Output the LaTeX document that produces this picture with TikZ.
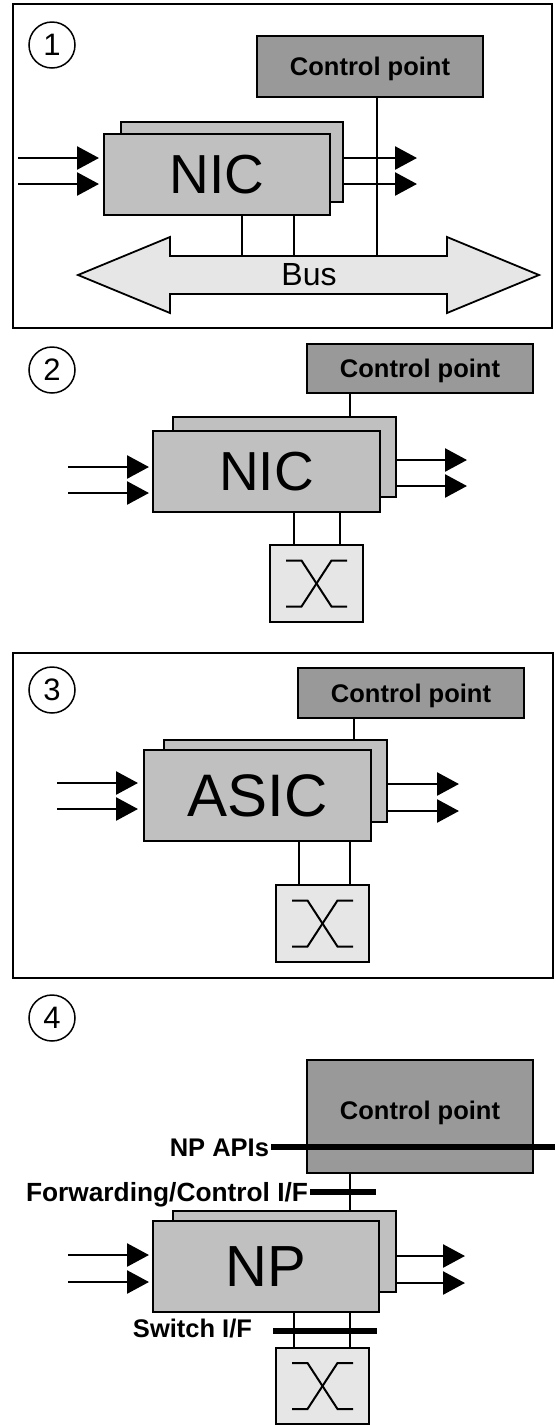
\documentclass[tikz,border=0pt]{standalone}
\usepackage{fontspec}
\setmainfont{Liberation Sans}
\usetikzlibrary{arrows.meta,calc}

\definecolor{cpfill}{HTML}{999999}
\definecolor{chipfill}{HTML}{C0C0C0}
\definecolor{lightfill}{HTML}{E6E6E6}

\newcommand\lblfont{\fontsize{25.5}{28}\selectfont\bfseries}
\newcommand\numfont{\fontsize{31}{33}\selectfont}

\tikzset{
  every node/.style={inner sep=0pt, outer sep=0pt},
  box/.style={draw=black, line width=1.8pt, rectangle, anchor=north west},
  cpbox/.style={box, fill=cpfill, font=\lblfont, text height=18.3pt, text depth=0pt},
  chipbox/.style={box, fill=chipfill},
  swbox/.style={box, fill=lightfill, minimum width=93pt, minimum height=77pt},
  wire/.style={line width=1.8pt},
  flow/.style={line width=2.6pt, -{Triangle[length=22pt,width=23pt]}},
  iface/.style={line width=5.5pt},
  tag/.style={font=\lblfont, text height=18.3pt, text depth=0pt},
  numcirc/.style={circle, draw, line width=1.5pt, minimum size=46pt, font=\numfont},
  frame/.style={draw, line width=1.8pt},
  xsym/.style={line width=2pt}
}

\begin{document}
\begin{tikzpicture}[x=1pt,y=-1pt]
\fill[white] (0,0) rectangle (555,1425);
\useasboundingbox (0,0) rectangle (555,1425);

% ---------- 1: NIC cards on a shared bus ----------
\draw[frame] (13,4) rectangle (552,328);
\node[numcirc] (n1) at (52,45) {1};
\node[cpbox, minimum width=226pt, minimum height=61pt] (cp1) at (257,36) {Control point};
\node[chipbox, minimum width=222pt, minimum height=80pt] (nicb1) at (121,122) {};
\node[chipbox, minimum width=226pt, minimum height=81pt, font=\fontsize{55}{60}\selectfont] (nic1) at (104,134) {NIC};
\draw[wire, fill=lightfill] (78,275) -- (170,237) -- (170,256) -- (447,256) -- (447,237)
  -- (539,275) -- (447,313) -- (447,294) -- (170,294) -- (170,313) -- cycle;
\node[font=\fontsize{32}{34}\selectfont] (bus1) at (309,275) {Bus};
\coordinate (b1a) at (242,256);
\coordinate (b1b) at (294,256);
\coordinate (b1c) at (377,256);
\draw[wire] (b1a |- nic1.south) -- (b1a);
\draw[wire] (b1b |- nic1.south) -- (b1b);
\draw[wire] (b1c |- cp1.south) -- (b1c);
\coordinate (i1a) at (18,158);
\coordinate (i1b) at (18,184);
\draw[flow, shorten >=5pt] (i1a) -- (i1a -| nic1.west);
\draw[flow, shorten >=5pt] (i1b) -- (i1b -| nic1.west);
\coordinate (o1a) at (417,158);
\coordinate (o1b) at (417,184);
\draw[flow] (o1a -| nicb1.east) -- (o1a);
\draw[flow] (o1b -| nicb1.east) -- (o1b);

% ---------- 2: NIC cards on a switch ----------
\node[numcirc] (n2) at (52,370) {2};
\node[cpbox, minimum width=226pt, minimum height=49pt] (cp2) at (307,344) {Control point};
\node[chipbox, minimum width=223pt, minimum height=80pt] (nicb2) at (173,417) {};
\node[chipbox, minimum width=227pt, minimum height=81pt, font=\fontsize{55}{60}\selectfont] (nic2) at (153,431) {NIC};
\node[swbox] (sw2) at (270,545) {};
\draw[xsym] ($(sw2.center)+(-30.5,-23)$) -- ++(15.5,0) -- ++(30,46) -- ++(15.5,0);
\draw[xsym] ($(sw2.center)+(-30.5,23)$) -- ++(15.5,0) -- ++(30,-46) -- ++(15.5,0);
\coordinate (c2) at (350,0);
\draw[wire] (c2 |- cp2.south) -- (c2 |- nicb2.north);
\coordinate (s2a) at (294,0);
\coordinate (s2b) at (340,0);
\draw[wire] (s2a |- nic2.south) -- (s2a |- sw2.north);
\draw[wire] (s2b |- nic2.south) -- (s2b |- sw2.north);
\coordinate (i2a) at (68,467);
\coordinate (i2b) at (68,493);
\draw[flow, shorten >=4pt] (i2a) -- (i2a -| nic2.west);
\draw[flow, shorten >=4pt] (i2b) -- (i2b -| nic2.west);
\coordinate (o2a) at (467,460);
\coordinate (o2b) at (467,486);
\draw[flow] (o2a -| nicb2.east) -- (o2a);
\draw[flow] (o2b -| nicb2.east) -- (o2b);

% ---------- 3: ASIC line cards ----------
\draw[frame] (13,653) rectangle (553,978);
\node[numcirc] (n3) at (52,690) {3};
\node[cpbox, minimum width=226pt, minimum height=50pt] (cp3) at (298,668) {Control point};
\node[chipbox, minimum width=223pt, minimum height=82pt] (asicb) at (164,740) {};
\node[chipbox, minimum width=227pt, minimum height=91pt, font=\fontsize{60}{64}\selectfont] (asic) at (144,750) {ASIC};
\node[swbox] (sw3) at (276,885) {};
\draw[xsym] ($(sw3.center)+(-30.5,-23)$) -- ++(15.5,0) -- ++(30,46) -- ++(15.5,0);
\draw[xsym] ($(sw3.center)+(-30.5,23)$) -- ++(15.5,0) -- ++(30,-46) -- ++(15.5,0);
\coordinate (c3) at (354,0);
\draw[wire] (c3 |- cp3.south) -- (c3 |- asicb.north);
\coordinate (s3a) at (299,0);
\coordinate (s3b) at (350,0);
\draw[wire] (s3a |- asic.south) -- (s3a |- sw3.north);
\draw[wire] (s3b |- asic.south) -- (s3b |- sw3.north);
\coordinate (i3a) at (57,783);
\coordinate (i3b) at (57,809);
\draw[flow, shorten >=6pt] (i3a) -- (i3a -| asic.west);
\draw[flow, shorten >=6pt] (i3b) -- (i3b -| asic.west);
\coordinate (o3a) at (459,784);
\coordinate (o3b) at (459,811);
\draw[flow] (o3a -| asicb.east) -- (o3a);
\draw[flow] (o3b -| asicb.east) -- (o3b);

% ---------- 4: network processors with open interfaces ----------
\node[numcirc] (n4) at (52,1018) {4};
\node[cpbox, minimum width=226pt, minimum height=113pt, text depth=12pt] (cp4) at (307,1060) {Control point};
\node[chipbox, minimum width=223pt, minimum height=81pt] (npb) at (173,1211) {};
\node[chipbox, minimum width=226pt, minimum height=91pt, font=\fontsize{58}{62}\selectfont] (np) at (153,1221) {NP};
\node[swbox, minimum height=76pt] (sw4) at (276,1348) {};
\draw[xsym] ($(sw4.center)+(-30.5,-23)$) -- ++(15.5,0) -- ++(30,46) -- ++(15.5,0);
\draw[xsym] ($(sw4.center)+(-30.5,23)$) -- ++(15.5,0) -- ++(30,-46) -- ++(15.5,0);
\coordinate (c4) at (350,0);
\draw[wire] (c4 |- cp4.south) -- (c4 |- npb.north);
\coordinate (s4a) at (294,0);
\coordinate (s4b) at (350,0);
\draw[wire] (s4a |- np.south) -- (s4a |- sw4.north);
\draw[wire] (s4b |- np.south) -- (s4b |- sw4.north);
\coordinate (i4a) at (68,1255);
\coordinate (i4b) at (68,1282);
\draw[flow, shorten >=4pt] (i4a) -- (i4a -| np.west);
\draw[flow, shorten >=4pt] (i4b) -- (i4b -| np.west);
\coordinate (o4a) at (465,1256);
\coordinate (o4b) at (465,1283);
\draw[flow] (o4a -| npb.east) -- (o4a);
\draw[flow] (o4b -| npb.east) -- (o4b);

% interface bars and their labels
\node[tag, anchor=east] (apitag) at (269,1147) {NP APIs};
\coordinate (apiend) at (555,1147);
\draw[iface] ([xshift=2pt]apitag.east) -- (apiend);
\node[tag, anchor=east, font=\fontsize{26.3}{29}\selectfont\bfseries, text height=18.8pt] (fctag) at (308,1192) {Forwarding/Control I/F};
\coordinate (fcend) at (376,1192);
\draw[iface] ([xshift=2pt]fctag.east) -- (fcend);
\node[tag, anchor=east] (swtag) at (252,1328) {Switch I/F};
\coordinate (swifa) at (273,1331);
\coordinate (swifb) at (377,1331);
\draw[iface] (swifa) -- (swifb);
\end{tikzpicture}
\end{document}
